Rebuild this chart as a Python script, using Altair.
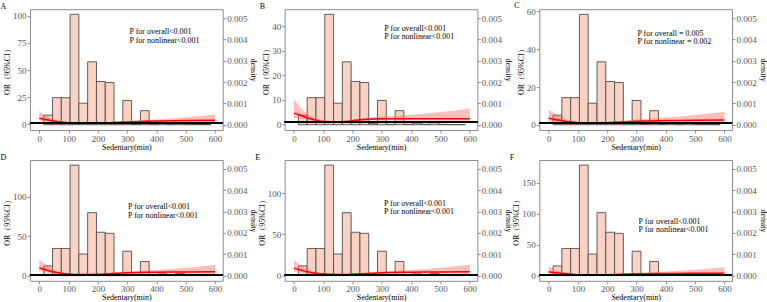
import altair as alt
import pandas as pd

FONT = "Liberation Serif"
LABEL_GREY = "#555555"
FRAME_GREY = "#8c8c8c"

# Sedentary-time distribution (density), 30-minute bins, shared by all panels
bin_start = [15, 45, 75, 105, 135, 165, 195, 225, 255, 285, 315, 345, 375, 405, 435, 465, 495, 525, 555]
bin_end = [45, 75, 105, 135, 165, 195, 225, 255, 285, 315, 345, 375, 405, 435, 465, 495, 525, 555, 585]
density = [0.00045, 0.00127, 0.00127, 0.00518, 0.00101, 0.00295, 0.00203, 0.00198, 0.00005, 0.00114,
           0.00002, 0.00066, 0.00002, 0.00008, 0.00002, 0.00010, 0.00002, 0.00001, 0.00001]

# Spline estimates of OR with 95% CI along sedentary time (min)
curve_x = [0, 25, 50, 75, 100, 150, 200, 250, 300, 400, 500, 600]

or_A = [5.5, 4.2, 3.0, 2.0, 1.3, 0.9, 1.1, 1.6, 2.2, 3.0, 3.5, 3.8]
lo_A = [3.0, 2.6, 2.1, 1.4, 0.9, 0.6, 0.8, 1.2, 1.6, 2.0, 2.0, 2.0]
up_A = [12.0, 7.5, 4.5, 2.8, 1.8, 1.3, 1.5, 2.2, 3.0, 4.5, 6.5, 9.0]

or_B = [4.6, 3.6, 2.5, 1.7, 1.2, 1.0, 1.5, 2.1, 2.3, 2.3, 2.3, 2.3]
lo_B = [2.6, 2.3, 1.8, 1.3, 1.0, 0.9, 1.2, 1.6, 1.7, 1.6, 1.5, 1.4]
up_B = [10.2, 6.5, 4.0, 2.4, 1.5, 1.2, 1.9, 2.8, 3.2, 3.9, 5.0, 6.5]

or_C = [3.4, 2.7, 2.0, 1.4, 1.1, 0.9, 1.1, 1.5, 1.9, 2.2, 2.4, 2.5]
lo_C = [1.3, 1.3, 1.2, 1.0, 0.8, 0.7, 0.8, 1.1, 1.3, 1.3, 1.2, 1.1]
up_C = [8.0, 5.5, 3.5, 2.2, 1.5, 1.2, 1.4, 2.0, 2.8, 3.8, 5.2, 6.9]

or_D = [10.0, 7.0, 4.5, 2.8, 1.8, 1.2, 1.5, 2.5, 3.4, 4.2, 4.6, 4.8]
lo_D = [5.0, 4.2, 3.0, 2.0, 1.3, 0.9, 1.1, 1.8, 2.4, 2.6, 2.3, 2.0]
up_D = [20.5, 13.0, 7.5, 4.2, 2.6, 1.6, 2.0, 3.4, 5.0, 7.0, 10.0, 13.5]

or_E = [9.0, 6.5, 4.2, 2.7, 1.8, 1.2, 1.5, 2.4, 3.3, 4.0, 4.4, 4.6]
lo_E = [4.5, 3.9, 2.9, 2.0, 1.3, 0.9, 1.1, 1.8, 2.3, 2.5, 2.2, 1.9]
up_E = [19.0, 12.0, 7.0, 4.0, 2.5, 1.6, 2.0, 3.3, 4.8, 6.8, 9.5, 13.0]

or_F = [6.0, 4.5, 3.2, 2.2, 1.5, 1.1, 1.4, 2.1, 2.8, 3.4, 3.7, 3.9]
lo_F = [2.6, 2.4, 2.0, 1.5, 1.1, 0.8, 1.0, 1.5, 1.9, 1.9, 1.8, 1.6]
up_F = [14.5, 9.0, 5.5, 3.3, 2.1, 1.4, 1.8, 2.8, 4.0, 6.5, 9.5, 13.5]

panel_letters = ["A", "B", "C", "D", "E", "F"]
or_values = [or_A, or_B, or_C, or_D, or_E, or_F]
lo_values = [lo_A, lo_B, lo_C, lo_D, lo_E, lo_F]
up_values = [up_A, up_B, up_C, up_D, up_E, up_F]

p_overall = ["P for overall<0.001", "P for overall<0.001", "P for overall = 0.005",
             "P for overall<0.001", "P for overall<0.001", "P for overall<0.001"]
p_nonlinear = ["P for nonlinear<0.001", "P for nonlinear<0.001", "P for nonlinear = 0.002",
               "P for nonlinear<0.001", "P for nonlinear<0.001", "P for nonlinear<0.001"]

or_ticks = [[0, 25, 50, 75, 100], [0, 10, 20, 30, 40], [0, 20, 40, 60],
            [0, 50, 100], [0, 50, 100], [0, 50, 100, 150]]
or_domains = [[-5.3, 106.2], [-2.3, 46.9], [-2.8, 61.3],
              [-6.7, 146.6], [-6.4, 140.2], [-8.5, 186.4]]

# where the P-value annotation sits (data coordinates)
note_x = [308, 308, 303, 303, 307, 307]
note_y1 = [85, 39, 48.3, 86.5, 86.7, 86.5]
note_y2 = [77, 35.6, 43.9, 75.6, 76.7, 72.7]

x_ticks = [0, 100, 200, 300, 400, 500, 600]
x_domain = [-32, 626]
density_ticks = [0, 0.001, 0.002, 0.003, 0.004, 0.005]
density_domain = [-0.000248, 0.00542]

W, H = 193, 121

hist_df = pd.DataFrame({"start": bin_start, "end": bin_end, "density": density})

axis_common = dict(
    labelFont=FONT, labelFontSize=9, labelColor=LABEL_GREY,
    titleFont=FONT, titleFontSize=8, titleColor="#000000", titleFontWeight="normal",
    tickColor=FRAME_GREY, tickSize=3, domain=False, grid=False, labelPadding=1,
)

x_scale = alt.Scale(domain=x_domain, nice=False, zero=False)
x_axis = alt.Axis(values=x_ticks, title="Sedentary(min)", titlePadding=0, **axis_common)


def make_panel(i):
    letter = panel_letters[i]
    or_scale = alt.Scale(domain=or_domains[i], nice=False, zero=False)
    or_axis = alt.Axis(orient="left", values=or_ticks[i], title="OR（95%CI）",
                       titlePadding=1, **axis_common)
    curve_df = pd.DataFrame({"x": curve_x, "or": or_values[i],
                             "lo": lo_values[i], "up": up_values[i]})
    note_df = pd.DataFrame({"x": [note_x[i], note_x[i]],
                            "y": [note_y1[i], note_y2[i]],
                            "label": [p_overall[i], p_nonlinear[i]]})

    bars = alt.Chart(hist_df).mark_rect(
        fill="#F9D2C3", stroke="#4d4d4d", strokeWidth=0.9
    ).encode(
        x=alt.X("start:Q", scale=x_scale, axis=x_axis),
        x2="end:Q",
        y=alt.Y("density:Q", scale=alt.Scale(domain=density_domain, nice=False, zero=False),
                axis=alt.Axis(orient="right", values=density_ticks, format=".3f",
                              title="density", titlePadding=2, **axis_common)),
        y2=alt.Y2(datum=0),
    )

    band = alt.Chart(curve_df).mark_area(
        color="#FF5A5A", opacity=0.4, interpolate="monotone", clip=True
    ).encode(
        x=alt.X("x:Q", scale=x_scale, axis=x_axis),
        y=alt.Y("lo:Q", scale=or_scale, axis=or_axis),
        y2="up:Q",
    )

    line = alt.Chart(curve_df).mark_line(
        color="#FF0000", strokeWidth=1.5, interpolate="monotone", clip=True
    ).encode(
        x=alt.X("x:Q", scale=x_scale, axis=x_axis),
        y=alt.Y("or:Q", scale=or_scale, axis=or_axis),
    )

    ref = alt.Chart(curve_df).mark_rule(color="#000000", strokeWidth=1).encode(
        y=alt.Y(datum=1, scale=or_scale, axis=or_axis),
    )

    notes = alt.Chart(note_df).mark_text(
        align="left", baseline="middle", font=FONT, fontSize=8, color="#000000"
    ).encode(
        x=alt.X("x:Q", scale=x_scale, axis=x_axis),
        y=alt.Y("y:Q", scale=or_scale, axis=or_axis),
        text="label:N",
    )

    or_layers = alt.layer(band, line, ref, notes)

    return alt.layer(bars, or_layers).resolve_scale(y="independent").properties(
        width=W, height=H,
        title=alt.TitleParams(text=letter, anchor="start", frame="bounds", font=FONT,
                              fontSize=8, fontWeight="normal", offset=-2, dx=-3),
    )


panels = [make_panel(i) for i in range(6)]

chart = alt.concat(
    *panels, columns=3, bounds="flush",
    spacing=alt.RowColnumber(row=30, column=62),
).resolve_scale(y="independent").properties(
    padding={"left": 0, "top": 0, "right": 0, "bottom": 0},
    background="white",
).configure_view(stroke=FRAME_GREY, strokeWidth=1)

chart.save("out.html", embed_options={"renderer": "svg", "actions": False})
